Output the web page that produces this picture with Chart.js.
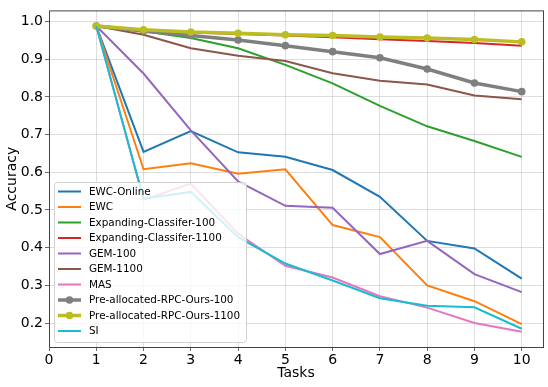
<!DOCTYPE html>
<html>
<head>
<meta charset="utf-8">
<script src="https://cdn.jsdelivr.net/npm/chart.js@4/dist/chart.umd.min.js"></script>
<style>
  html, body { margin: 0; padding: 0; background: #fff; }
  canvas { display: block; }
</style>
</head>
<body>
<canvas id="accChart" width="548" height="387"></canvas>
<script>
// Data
const tasks = [1, 2, 3, 4, 5, 6, 7, 8, 9, 10];
const xTicks = [0, 1, 2, 3, 4, 5, 6, 7, 8, 9, 10];
const yTicks = [0.2, 0.3, 0.4, 0.5, 0.6, 0.7, 0.8, 0.9, 1.0];

const seriesNames = [
  'EWC-Online', 'EWC', 'Expanding-Classifer-100', 'Expanding-Classifer-1100',
  'GEM-100', 'GEM-1100', 'MAS', 'Pre-allocated-RPC-Ours-100',
  'Pre-allocated-RPC-Ours-1100', 'SI'
];

const ewcOnline  = [0.988, 0.654, 0.709, 0.653, 0.641, 0.606, 0.535, 0.418, 0.398, 0.318];
const ewc        = [0.988, 0.608, 0.624, 0.596, 0.608, 0.460, 0.428, 0.300, 0.258, 0.197];
const expand100  = [0.988, 0.974, 0.956, 0.929, 0.885, 0.836, 0.776, 0.722, 0.683, 0.641];
const expand1100 = [0.988, 0.977, 0.971, 0.967, 0.963, 0.958, 0.953, 0.948, 0.943, 0.936];
const gem100     = [0.988, 0.862, 0.711, 0.576, 0.511, 0.506, 0.383, 0.418, 0.330, 0.282];
const gem1100    = [0.988, 0.965, 0.929, 0.909, 0.895, 0.863, 0.843, 0.833, 0.804, 0.794];
const mas        = [0.988, 0.527, 0.570, 0.437, 0.352, 0.321, 0.271, 0.241, 0.200, 0.177];
const rpc100     = [0.988, 0.975, 0.963, 0.951, 0.936, 0.920, 0.904, 0.874, 0.837, 0.814];
const rpc1100    = [0.988, 0.978, 0.972, 0.969, 0.965, 0.963, 0.959, 0.956, 0.952, 0.946];
const si         = [0.988, 0.530, 0.548, 0.428, 0.358, 0.313, 0.266, 0.246, 0.242, 0.185];

const allSeries = [ewcOnline, ewc, expand100, expand1100, gem100, gem1100, mas, rpc100, rpc1100, si];
const colors = ['#1f77b4', '#ff7f0e', '#2ca02c', '#d62728', '#9467bd',
                '#8c564b', '#e377c2', '#7f7f7f', '#bcbd22', '#17becf'];
const withMarkers = [false, false, false, false, false, false, false, true, true, false];

const FONT = "'DejaVu Sans', sans-serif";

// build datasets (last series drawn on top, like matplotlib)
const datasets = allSeries.map((vals, i) => ({
  label: seriesNames[i],
  data: tasks.map((t, j) => ({ x: t, y: vals[j] })),
  borderColor: colors[i],
  backgroundColor: colors[i],
  borderWidth: withMarkers[i] ? 3.5 : 2,
  pointRadius: withMarkers[i] ? 3.8 : 0,
  pointBorderWidth: 0,
  tension: 0,
  fill: false,
  order: allSeries.length - i,
}));

// frame around the plot area
const framePlugin = {
  id: 'frame',
  afterDatasetsDraw(chart) {
    const { ctx, chartArea: a } = chart;
    ctx.save();
    ctx.strokeStyle = '#444';
    ctx.lineWidth = 1;
    ctx.strokeRect(a.left + 0.5, a.top + 0.5, a.right - a.left, a.bottom - a.top);
    ctx.restore();
  }
};

// matplotlib-style legend inside the axes, lower left
const legendPlugin = {
  id: 'boxLegend',
  afterDraw(chart) {
    const ctx = chart.ctx;
    const x0 = 54, y0 = 182, w = 192, h = 160, r = 3;
    ctx.save();
    ctx.beginPath();
    ctx.roundRect(x0 + 0.5, y0 + 0.5, w, h, r);
    ctx.fillStyle = 'rgba(255,255,255,0.8)';
    ctx.fill();
    ctx.strokeStyle = 'rgba(204,204,204,0.9)';
    ctx.lineWidth = 1;
    ctx.stroke();

    ctx.font = '10.4px ' + FONT;
    ctx.textBaseline = 'middle';
    ctx.textAlign = 'left';
    chart.data.datasets.forEach((ds, i) => {
      const y = 191.5 + i * 15.5;
      ctx.strokeStyle = ds.borderColor;
      ctx.lineWidth = ds.borderWidth;
      ctx.beginPath();
      ctx.moveTo(58, y);
      ctx.lineTo(81, y);
      ctx.stroke();
      if (ds.pointRadius > 0) {
        ctx.fillStyle = ds.borderColor;
        ctx.beginPath();
        ctx.arc(69.5, y, ds.pointRadius, 0, Math.PI * 2);
        ctx.fill();
      }
      ctx.fillStyle = '#000';
      ctx.fillText(ds.label, 89, y + 0.5);
    });
    ctx.restore();
  }
};

new Chart(document.getElementById('accChart').getContext('2d'), {
  type: 'line',
  data: { datasets: datasets },
  options: {
    responsive: false,
    animation: false,
    layout: { padding: { top: 4, right: 5, left: 0, bottom: 0 } },
    plugins: {
      legend: { display: false },
      tooltip: { enabled: false },
    },
    scales: {
      x: {
        type: 'linear',
        min: 0,
        max: 10.45,
        afterFit(scale) { scale.height = 40; },
        afterBuildTicks(scale) { scale.ticks = xTicks.map(v => ({ value: v })); },
        ticks: {
          color: '#000',
          font: { family: FONT, size: 14 },
          padding: 1,
          maxRotation: 0,
          autoSkip: false,
          callback: v => String(v),
        },
        grid: {
          color: 'rgba(176,176,176,0.55)',
          lineWidth: 0.8,
          borderDash: [2.5, 2.5],
          tickLength: 4,
          tickColor: '#444',
          tickBorderDash: [],
        },
        border: { display: false },
        title: {
          display: true,
          text: 'Tasks',
          color: '#000',
          font: { family: FONT, size: 14 },
          padding: { top: 0, bottom: 5.6 },
        },
      },
      y: {
        min: 0.1365,
        max: 1.0295,
        afterFit(scale) { scale.width = 49; },
        afterBuildTicks(scale) { scale.ticks = yTicks.map(v => ({ value: v })); },
        ticks: {
          color: '#000',
          font: { family: FONT, size: 14 },
          padding: 2,
          autoSkip: false,
          callback: v => v.toFixed(1),
        },
        grid: {
          color: 'rgba(176,176,176,0.55)',
          lineWidth: 0.8,
          borderDash: [2.5, 2.5],
          tickLength: 4,
          tickColor: '#444',
          tickBorderDash: [],
        },
        border: { display: false },
        title: {
          display: true,
          text: 'Accuracy',
          color: '#000',
          font: { family: FONT, size: 14 },
          padding: { top: 3.6, bottom: 0 },
        },
      },
    },
  },
  plugins: [framePlugin, legendPlugin],
});
</script>
</body>
</html>
